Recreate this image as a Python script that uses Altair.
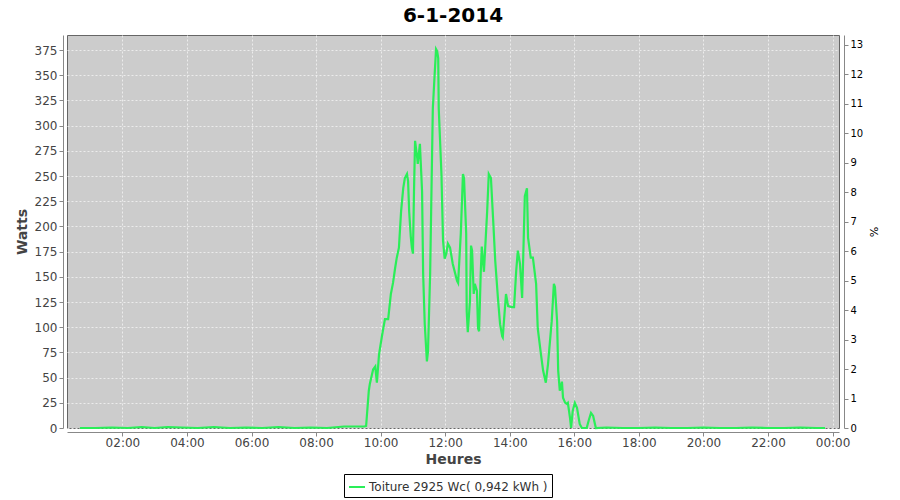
import altair as alt
import pandas as pd

# ---- data ----
day = "2014-01-06"
series_name = "Toiture 2925 Wc( 0,942 kWh )"
peak_wc = 2925

times = [
    "00:41", "01:10", "01:40", "02:10", "02:36", "03:00", "03:24", "03:50",
    "04:20", "04:50", "05:20", "05:50", "06:20", "06:50", "07:20", "07:50",
    "08:20", "08:52", "09:10", "09:30",
    "09:33", "09:37", "09:38", "09:40", "09:46", "09:50", "09:53", "09:57",
    "10:03", "10:08", "10:14", "10:19", "10:23", "10:27", "10:30", "10:34",
    "10:38", "10:42", "10:45", "10:49", "10:51", "10:53", "10:56", "10:58",
    "11:00", "11:02", "11:04", "11:08", "11:09", "11:13", "11:17", "11:19",
    "11:22", "11:26", "11:28", "11:32", "11:35", "11:37", "11:41", "11:43",
    "11:45", "11:47", "11:48", "11:53", "11:56", "11:59", "12:02", "12:05",
    "12:09", "12:14", "12:22", "12:24", "12:29", "12:33", "12:35", "12:39",
    "12:40", "12:42", "12:46", "12:48", "12:50", "12:53", "12:55", "12:59",
    "13:01", "13:03", "13:06", "13:08", "13:12", "13:14", "13:18", "13:21",
    "13:25", "13:29", "13:33", "13:38", "13:42", "13:46", "13:47", "13:51",
    "13:53", "13:57", "14:04", "14:08", "14:12", "14:15", "14:19", "14:23",
    "14:26", "14:28", "14:32", "14:34", "14:39", "14:43", "14:49", "14:52",
    "14:58", "15:02", "15:07", "15:11", "15:18", "15:22", "15:24", "15:28",
    "15:30", "15:33", "15:37", "15:39", "15:43", "15:46", "15:48", "15:52",
    "15:54", "15:57", "16:01", "16:05", "16:10", "16:14", "16:23", "16:27",
    "16:31", "16:35", "16:40",
    "17:00", "17:30", "18:00", "18:30", "19:00", "19:30", "20:00", "20:30",
    "21:00", "21:30", "22:00", "22:30", "23:00", "23:30", "23:46",
]

watts = [
    0, 0, 0.5, 0, 1, 0, 1, 0.5,
    0, 1, 0, 0.5, 0, 1, 0, 0.5,
    0, 1.5, 1.5, 1.5,
    2, 30, 37, 44, 58, 61, 45, 73,
    93, 108, 108, 133, 144, 159, 169, 179,
    215, 238, 248, 252, 245, 215, 190, 179,
    173, 235, 285, 268, 262, 282, 235, 153,
    103, 66, 76, 153, 252, 317, 357, 376,
    374, 367, 317, 252, 186, 168, 173, 183,
    179, 163, 146, 144, 193, 252, 248, 193,
    116, 95, 126, 181, 176, 133, 143, 136,
    99, 96, 153, 180, 155, 175, 215, 252,
    248, 208, 166, 129, 103, 91, 90, 119,
    133, 121, 120, 120, 156, 176, 163, 129,
    189, 230, 238, 189, 169, 169, 143, 99,
    73, 57, 45, 63, 106, 143, 140, 106,
    57, 37, 46, 30, 25, 24, 25, 10,
    0, 17, 25, 20, 4, 0, 0, 8,
    15, 12, 0,
    0.5, 0, 0, 0.5, 0, 0, 0.5, 0,
    0, 0.5, 0, 0, 0.5, 0, 0,
]

x_tick_hours = [2, 4, 6, 8, 10, 12, 14, 16, 18, 20, 22, 24]
left_ticks = list(range(0, 376, 25))
right_ticks = list(range(0, 14))
y_max = 390

df = pd.DataFrame({
    "t": [f"{day}T{s}:00" for s in times],
    "w": watts,
    "serie": series_name,
})
df["pct"] = df["w"] / peak_wc * 100

font = "DejaVu Sans"


def dt(h, m=0):
    if h >= 24:
        return alt.DateTime(year=2014, month=1, date=7, hours=h - 24, minutes=m)
    return alt.DateTime(year=2014, month=1, date=6, hours=h, minutes=m)


x_scale = alt.Scale(domain=[dt(0, 17), dt(24, 12)])
x_axis = alt.Axis(
    title="Heures", format="%H:%M",
    values=[dt(h) for h in x_tick_hours],
    grid=True, offset=4, tickSize=4, labelPadding=1, titlePadding=4,
)

line = alt.Chart(df).mark_line(strokeWidth=2.2).encode(
    x=alt.X("t:T", scale=x_scale, axis=x_axis),
    y=alt.Y("w:Q", scale=alt.Scale(domain=[0, y_max], nice=False),
            axis=alt.Axis(title="Watts", values=left_ticks, grid=True,
                          offset=4, tickSize=4, labelPadding=2, titlePadding=5)),
    color=alt.Color("serie:N", scale=alt.Scale(range=["#2aee58"]),
                    legend=alt.Legend(
                        title=None, orient="none", legendX=277, legendY=439,
                        symbolType="stroke", symbolSize=256, symbolStrokeWidth=2,
                        labelFont=font, labelFontSize=12, labelColor="#333333",
                        labelLimit=400,
                        strokeColor="black", fillColor="white", padding=4,
                        labelOffset=3)),
)

ghost = alt.Chart(df).mark_line(opacity=0).encode(
    x=alt.X("t:T", scale=x_scale, axis=x_axis),
    y=alt.Y("pct:Q", scale=alt.Scale(domain=[0, y_max / peak_wc * 100], nice=False),
            axis=alt.Axis(title="%", orient="right", values=right_ticks, grid=False,
                          offset=5, tickSize=4, labelPadding=2, labelFontSize=10,
                          labelColor="black", titleFontSize=11,
                          titleFontWeight="normal", titleColor="black",
                          titlePadding=5)),
)

chart = alt.layer(line, ghost).resolve_scale(y="independent").properties(
    width=772, height=393,
    title=alt.TitleParams("6-1-2014", font=font, fontSize=20, fontWeight="bold",
                          color="black", offset=9),
    autosize=alt.AutoSizeParams(type="none"),
    padding={"left": 59, "top": 27, "right": 53, "bottom": 70},
).configure_view(
    fill="#cccccc", stroke="#666666", strokeWidth=1,
).configure_axis(
    labelFont=font, labelFontSize=12, labelColor="#444444",
    titleFont=font, titleFontSize=14, titleFontWeight="bold", titleColor="#444444",
    domainColor="#888888", tickColor="#888888",
    gridColor="#f0f0f0", gridDash=[2, 2], gridWidth=1, gridOpacity=0.9,
)

chart.save("out.html", embed_options={"renderer": "svg", "actions": False})
